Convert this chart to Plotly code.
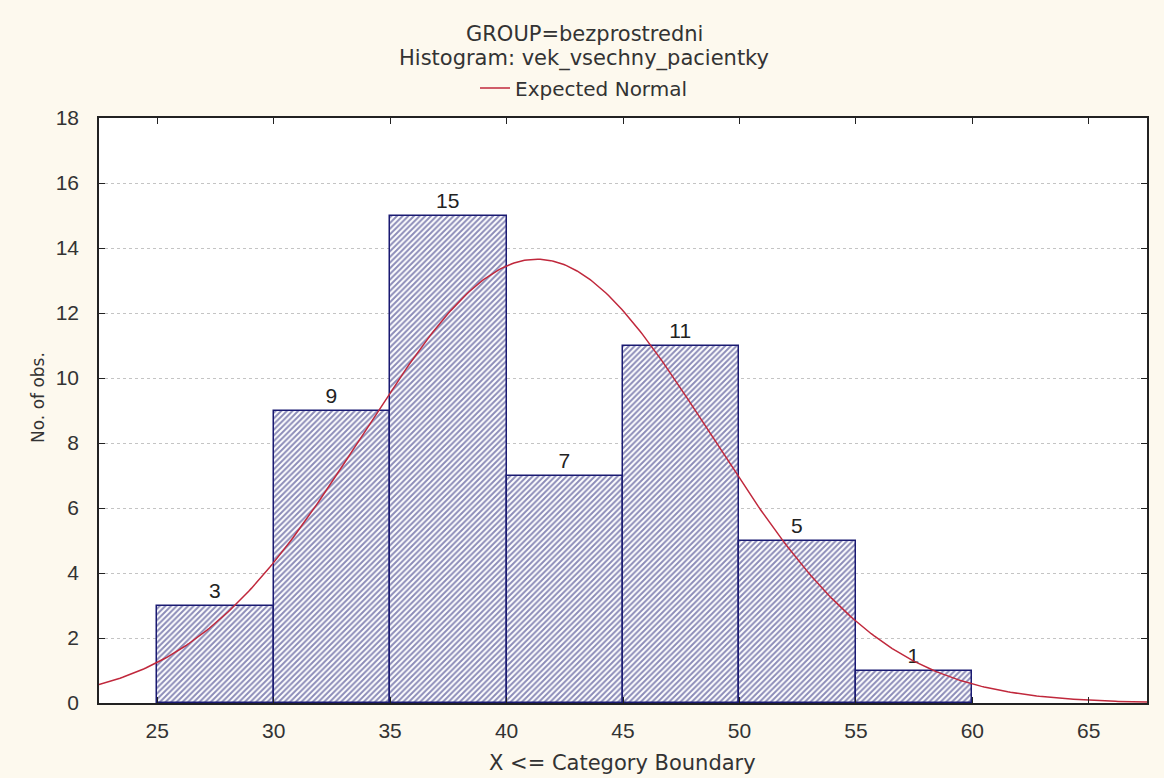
import numpy as np
import plotly.graph_objects as go

# Histogram bins (upper boundary inclusive) and observed counts
bin_left = [25, 30, 35, 40, 45, 50, 55]
bin_width = 5
counts = [3, 9, 15, 7, 11, 5, 1]

# Parameters of the fitted normal distribution
mean_age = 41.3
sd_age = 7.45
n_obs = sum(counts)

x_ticks = [25, 30, 35, 40, 45, 50, 55, 60, 65]
y_ticks = [0, 2, 4, 6, 8, 10, 12, 14, 16, 18]

title_lines = ["GROUP=bezprostredni", "Histogram: vek_vsechny_pacientky"]

W, H = 1164, 778
ML, MR, MT, MB = 99, 17, 118, 75
PW, PH = W - ML - MR, H - MT - MB

navy = "#1a1a72"
curve_red = "#c0283c"
text_color = "#333333"
num_font = "Liberation Sans, Arial, sans-serif"
txt_font = "DejaVu Sans, Verdana, sans-serif"


def px_x(px):
    return (px - ML) / PW


def px_y(py):
    return 1 - (py - MT) / PH


bar_centers = [b + bin_width / 2 for b in bin_left]

xs = np.linspace(22.5, 67.5, 400)
expected = n_obs * bin_width / (sd_age * np.sqrt(2 * np.pi)) * np.exp(-0.5 * ((xs - mean_age) / sd_age) ** 2)

fig = go.Figure()
fig.add_trace(go.Bar(
    x=bar_centers,
    y=counts,
    width=[bin_width] * len(counts),
    text=[str(c) for c in counts],
    textposition="outside",
    textfont=dict(family=num_font, size=21, color="#222222"),
    cliponaxis=False,
    marker=dict(
        color="white",
        line=dict(color=navy, width=1.5),
        pattern=dict(shape="/", fgcolor=navy, bgcolor="white", size=4, solidity=0.5),
    ),
    showlegend=False,
    hoverinfo="skip",
))
fig.add_trace(go.Scatter(
    x=xs,
    y=expected,
    mode="lines",
    line=dict(color=curve_red, width=1.5),
    name="Expected Normal",
))

annotations = [
    dict(text=title_lines[0], x=px_x(584), y=px_y(34)),
    dict(text=title_lines[1], x=px_x(584), y=px_y(59)),
    dict(text="X <= Category Boundary", x=px_x(622), y=px_y(763)),
]
for a in annotations:
    a.update(xref="paper", yref="paper", xanchor="center", yanchor="middle",
             showarrow=False, font=dict(family=txt_font, size=21, color=text_color))
annotations.append(dict(
    text="No. of obs.", x=px_x(38), y=px_y(398), xref="paper", yref="paper",
    xanchor="center", yanchor="middle", showarrow=False, textangle=-90,
    font=dict(family=txt_font, size=17, color=text_color),
))

axis_common = dict(
    ticks="inside",
    ticklen=6,
    tickcolor="#222222",
    showline=True,
    linecolor="#222222",
    linewidth=1.5,
    mirror="ticks",
    zeroline=False,
    tickfont=dict(family=num_font, size=21, color=text_color),
)

fig.update_layout(
    width=W,
    height=H,
    paper_bgcolor="#fdf9ee",
    plot_bgcolor="white",
    margin=dict(l=ML, r=MR, t=MT, b=MB),
    font=dict(family=txt_font, size=20, color=text_color),
    bargap=0,
    annotations=annotations,
    legend=dict(
        orientation="h",
        x=px_x(584), xanchor="center",
        y=px_y(88), yanchor="middle",
        font=dict(family=txt_font, size=20, color=text_color),
        bgcolor="rgba(0,0,0,0)",
        itemwidth=30,
    ),
    xaxis=dict(
        range=[22.5, 67.5],
        tickvals=x_ticks,
        showgrid=False,
        ticklabelstandoff=8,
        **axis_common,
    ),
    yaxis=dict(
        range=[0, 18],
        tickvals=y_ticks,
        showgrid=True,
        gridcolor="#c4c4c4",
        griddash="dot",
        gridwidth=1,
        ticklabelstandoff=14,
        **axis_common,
    ),
)

fig.write_html("out.html")
